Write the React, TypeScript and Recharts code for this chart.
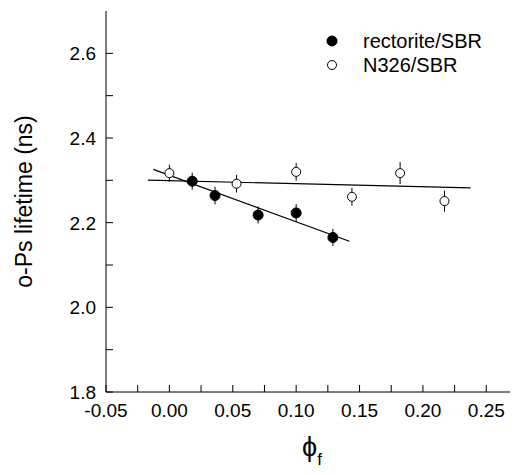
import React from 'react';
import { ComposedChart, Scatter, XAxis, YAxis, ErrorBar, Legend } from 'recharts';

const rectoriteX = [0.018, 0.036, 0.07, 0.1, 0.129];
const rectoriteY = [2.298, 2.264, 2.218, 2.223, 2.165];
const rectoriteErr = [0.02, 0.021, 0.02, 0.021, 0.02];

const n326X = [0.0, 0.053, 0.1, 0.144, 0.182, 0.217];
const n326Y = [2.317, 2.292, 2.32, 2.261, 2.317, 2.251];
const n326Err = [0.02, 0.021, 0.021, 0.021, 0.026, 0.025];

const rectoriteFitX = [-0.0127, 0.142];
const rectoriteFitY = [2.326, 2.156];
const n326FitX = [-0.017, 0.2376];
const n326FitY = [2.3005, 2.282];

const xTicks = [-0.05, -0.025, 0, 0.025, 0.05, 0.075, 0.1, 0.125, 0.15, 0.175, 0.2, 0.225, 0.25];
const xMajor = [-0.05, 0, 0.05, 0.1, 0.15, 0.2, 0.25];
const yTicks = [1.8, 1.9, 2.0, 2.1, 2.2, 2.3, 2.4, 2.5, 2.6];
const yMajor = [1.8, 2.0, 2.2, 2.4, 2.6];

const legendLabels = ['rectorite/SBR', 'N326/SBR'];

const FONT = '"Liberation Sans", Arial, Helvetica, sans-serif';
const TICK_LEN = 7;

const rectoriteData = rectoriteX.map((x, i) => ({ x, y: rectoriteY[i], err: rectoriteErr[i] }));
const n326Data = n326X.map((x, i) => ({ x, y: n326Y[i], err: n326Err[i] }));
const rectoriteFit = rectoriteFitX.map((x, i) => ({ x, y: rectoriteFitY[i] }));
const n326Fit = n326FitX.map((x, i) => ({ x, y: n326FitY[i] }));

const isMajor = (v: number, list: number[]) => list.some((m) => Math.abs(m - v) < 1e-9);

const BottomTick = (props: any) => {
  const { x, y, payload } = props;
  const major = isMajor(payload.value, xMajor);
  return (
    <g>
      <line x1={x} y1={y} x2={x} y2={y - TICK_LEN} stroke="#000" strokeWidth={1} />
      {major && (
        <text x={x} y={y + 25} textAnchor="middle" fontSize={19} fontFamily={FONT} fill="#000">
          {payload.value.toFixed(2)}
        </text>
      )}
    </g>
  );
};

const TopTick = (props: any) => {
  const { x, y } = props;
  return <line x1={x} y1={y} x2={x} y2={y + TICK_LEN} stroke="#000" strokeWidth={1} />;
};

const LeftTick = (props: any) => {
  const { x, y, payload } = props;
  const major = isMajor(payload.value, yMajor);
  return (
    <g>
      <line x1={x} y1={y} x2={x + TICK_LEN} y2={y} stroke="#000" strokeWidth={1} />
      {major && (
        <text x={x - 10} y={y + 7} textAnchor="end" fontSize={19} fontFamily={FONT} fill="#000">
          {payload.value.toFixed(1)}
        </text>
      )}
    </g>
  );
};

const RightTick = (props: any) => {
  const { x, y } = props;
  return <line x1={x} y1={y} x2={x - TICK_LEN} y2={y} stroke="#000" strokeWidth={1} />;
};

const LegendContent = () => (
  <svg width={190} height={60}>
    <circle cx={12} cy={16} r={5} fill="#000" stroke="#000" />
    <text x={43} y={23} fontSize={20} fontFamily={FONT} fill="#000">{legendLabels[0]}</text>
    <circle cx={12} cy={40} r={4.5} fill="#fff" stroke="#000" strokeWidth={1} />
    <text x={43} y={47} fontSize={20} fontFamily={FONT} fill="#000">{legendLabels[1]}</text>
  </svg>
);

const NoShape = () => null;

const FilledDot = (props: any) => <circle cx={props.cx} cy={props.cy} r={5} fill="#000" stroke="#000" />;
const OpenDot = (props: any) => (
  <circle cx={props.cx} cy={props.cy} r={4.5} fill="#fff" stroke="#000" strokeWidth={1} />
);

export default function App() {
  return (
    <div style={{ position: 'relative', marginLeft: -8, marginTop: -8, width: 518, height: 475, background: '#fff' }}>
      <ComposedChart width={518} height={475} margin={{ top: 11, right: 0, bottom: 0, left: 0 }}>
        <XAxis
          xAxisId="b"
          type="number"
          dataKey="x"
          domain={[-0.05, 0.275]}
          ticks={xTicks}
          interval={0}
          orientation="bottom"
          height={83}
          tickSize={0}
          tickMargin={0}
          tickLine={false}
          axisLine={{ stroke: '#000', strokeWidth: 1 }}
          tick={<BottomTick />}
          allowDataOverflow
        />
        <XAxis
          xAxisId="t"
          type="number"
          dataKey="x"
          domain={[-0.05, 0.275]}
          ticks={xTicks}
          interval={0}
          orientation="top"
          height={0}
          tickSize={0}
          tickMargin={0}
          tickLine={false}
          axisLine={{ stroke: '#000', strokeWidth: 1 }}
          tick={<TopTick />}
          allowDataOverflow
        />
        <YAxis
          yAxisId="l"
          type="number"
          dataKey="y"
          domain={[1.8, 2.7]}
          ticks={yTicks}
          interval={0}
          orientation="left"
          width={106}
          tickSize={0}
          tickMargin={0}
          tickLine={false}
          axisLine={{ stroke: '#000', strokeWidth: 1 }}
          tick={<LeftTick />}
          allowDataOverflow
          label={{
            value: 'o-Ps lifetime (ns)',
            angle: -90,
            position: 'insideLeft',
            offset: 0,
            dx: 24,
            style: { fontSize: 23, fontFamily: FONT, fill: '#000', textAnchor: 'middle' },
          }}
        />
        <YAxis
          yAxisId="r"
          type="number"
          dataKey="y"
          domain={[1.8, 2.7]}
          ticks={yTicks}
          interval={0}
          orientation="right"
          width={0}
          tickSize={0}
          tickMargin={0}
          tickLine={false}
          axisLine={{ stroke: '#000', strokeWidth: 1 }}
          tick={<RightTick />}
          allowDataOverflow
        />
        <Scatter
          xAxisId="b"
          yAxisId="l"
          data={rectoriteFit}
          line={{ stroke: '#000', strokeWidth: 1.2 }}
          shape={<NoShape />}
          isAnimationActive={false}
          legendType="none"
        />
        <Scatter
          xAxisId="b"
          yAxisId="l"
          data={n326Fit}
          line={{ stroke: '#000', strokeWidth: 1.2 }}
          shape={<NoShape />}
          isAnimationActive={false}
          legendType="none"
        />
        <Scatter
          xAxisId="b"
          yAxisId="l"
          name={legendLabels[1]}
          data={n326Data}
          shape={<OpenDot />}
          isAnimationActive={false}
        >
          <ErrorBar dataKey="err" direction="y" width={0} stroke="#000" strokeWidth={1} isAnimationActive={false} />
        </Scatter>
        <Scatter
          xAxisId="b"
          yAxisId="l"
          name={legendLabels[0]}
          data={rectoriteData}
          shape={<FilledDot />}
          isAnimationActive={false}
        >
          <ErrorBar dataKey="err" direction="y" width={0} stroke="#000" strokeWidth={1} isAnimationActive={false} />
        </Scatter>
        <Legend
          layout="vertical"
          align="center"
          verticalAlign="middle"
          content={<LegendContent />}
          wrapperStyle={{ left: 320, top: 25, width: 190, height: 60 }}
        />
      </ComposedChart>
      <div
        style={{
          position: 'absolute',
          left: 302,
          top: 434,
          fontFamily: FONT,
          color: '#000',
          lineHeight: 1,
          whiteSpace: 'nowrap',
        }}
      >
        <span style={{ fontSize: 27 }}>ϕ</span>
        <span style={{ fontSize: 17, position: 'relative', top: 9 }}>f</span>
      </div>
    </div>
  );
}
